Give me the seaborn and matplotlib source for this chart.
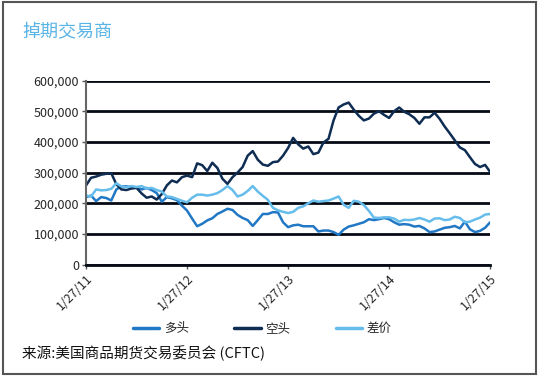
import pandas as pd
import numpy as np
import matplotlib
matplotlib.use("Agg")
import matplotlib.pyplot as plt
from matplotlib.patches import Rectangle
import seaborn as sns

sns.set_theme(style="white")
plt.rcParams['font.family'] = ['Noto Sans CJK SC', 'DejaVu Sans']

# 数据（千手，约每 18 天一个点，2011-01-27 至 2015-01-27）
long_pos = [220, 225, 207, 220, 217, 209, 245, 255, 255, 252, 252, 245, 250, 243, 233, 205, 220, 216, 210, 192,
            176, 150, 125, 133, 144, 151, 165, 173, 182, 178, 162, 152, 145, 126, 145, 165, 165, 171, 170, 138,
            122, 128, 130, 125, 125, 125, 108, 111, 111, 106, 97, 114, 124, 128, 133, 138, 148, 145, 148, 152,
            148, 138, 130, 132, 130, 124, 126, 118, 106, 108, 114, 120, 122, 126, 118, 140, 115, 106, 110, 120,
            138]
short_pos = [258, 283, 287, 293, 296, 298, 262, 245, 243, 248, 250, 232, 218, 222, 212, 230, 258, 274, 268, 285,
             290, 285, 330, 324, 305, 332, 315, 280, 263, 285, 300, 318, 355, 370, 342, 326, 322, 334, 336, 355,
             380, 413, 392, 378, 385, 360, 365, 398, 410, 470, 512, 522, 528, 505, 485, 470, 476, 492, 500, 488,
             478, 500, 512, 498, 490, 478, 459, 480, 480, 495, 475, 450, 428, 405, 382, 373, 350, 328, 318, 325,
             302]
spread = [225, 222, 245, 242, 243, 247, 265, 255, 252, 256, 253, 256, 248, 250, 243, 238, 222, 220, 214, 208,
          203, 218, 228, 228, 225, 228, 233, 243, 256, 243, 222, 228, 240, 256, 238, 224, 211, 185, 177, 172,
          168, 172, 185, 190, 200, 209, 205, 207, 209, 215, 222, 195, 185, 208, 205, 194, 175, 153, 152, 154,
          154, 150, 140, 146, 145, 147, 152, 147, 140, 150, 151, 145, 147, 156, 152, 138, 140, 147, 153, 163,
          165]
tick_labels = ["1/27/11", "1/27/12", "1/27/13", "1/27/14", "1/27/15"]

dates = pd.date_range("2011-01-27", "2015-01-27", periods=len(long_pos))
df = pd.DataFrame({"日期": dates,
                   "多头": np.array(long_pos) * 1000,
                   "空头": np.array(short_pos) * 1000,
                   "差价": np.array(spread) * 1000})
df_long = df.melt(id_vars="日期", var_name="类别", value_name="值")

fig = plt.figure(figsize=(5.41, 3.78), dpi=100)
ax = fig.add_axes([0.159, 0.300, 0.747, 0.487])

palette = {"多头": "#2178c4", "空头": "#0f2d52", "差价": "#66bdeb"}
sns.lineplot(data=df_long, x="日期", y="值", hue="类别", palette=palette,
             linewidth=1.8, ax=ax, legend=False)

# 网格线与坐标轴
ax.set_ylim(0, 600000)
ax.set_yticks(range(0, 600001, 100000))
ax.set_yticklabels([f"{v:,}" for v in range(0, 600001, 100000)], fontsize=9)
ax.yaxis.grid(True, color="#050a14", linewidth=2)
ax.xaxis.grid(False)
ax.set_axisbelow(True)

tick_dates = pd.to_datetime(["2011-01-27", "2012-01-27", "2013-01-27", "2014-01-27", "2015-01-27"])
ax.set_xlim(tick_dates[0], tick_dates[-1])
ax.set_xticks(tick_dates)
ax.set_xticklabels(tick_labels, rotation=45, ha="right", rotation_mode="anchor", fontsize=9)
ax.tick_params(axis="both", which="both", length=3, width=1, color="#555555",
               bottom=True, left=True, direction="out", pad=2)
ax.set_xlabel("")
ax.set_ylabel("")

for s in ["top", "right"]:
    ax.spines[s].set_visible(False)
ax.spines["left"].set_color("#666666")
ax.spines["left"].set_linewidth(1.5)
ax.spines["bottom"].set_color("#050a14")
ax.spines["bottom"].set_linewidth(2)

# 图例
handles = [plt.Line2D([], [], color=palette[k], linewidth=2.5) for k in ["多头", "空头", "差价"]]
fig.legend(handles, ["多头", "空头", "差价"], loc="center", bbox_to_anchor=(0.485, 0.13),
           ncol=3, frameon=False, fontsize=9, handlelength=2.1, columnspacing=3.6, handletextpad=0.4)

# 标题与来源
fig.text(0.041, 0.915, "掉期交易商", fontsize=13, color="#5ab4e5", va="center", ha="left")
fig.text(0.041, 0.066, "来源:美国商品期货交易委员会 (CFTC)", fontsize=10.5, color="#111111",
         va="center", ha="left")

# 外框
fig.patches.append(Rectangle((0.006, 0.01), 0.984, 0.985, transform=fig.transFigure,
                             fill=False, edgecolor="#555555", linewidth=1.5))

fig.savefig("out.png", dpi=100)
